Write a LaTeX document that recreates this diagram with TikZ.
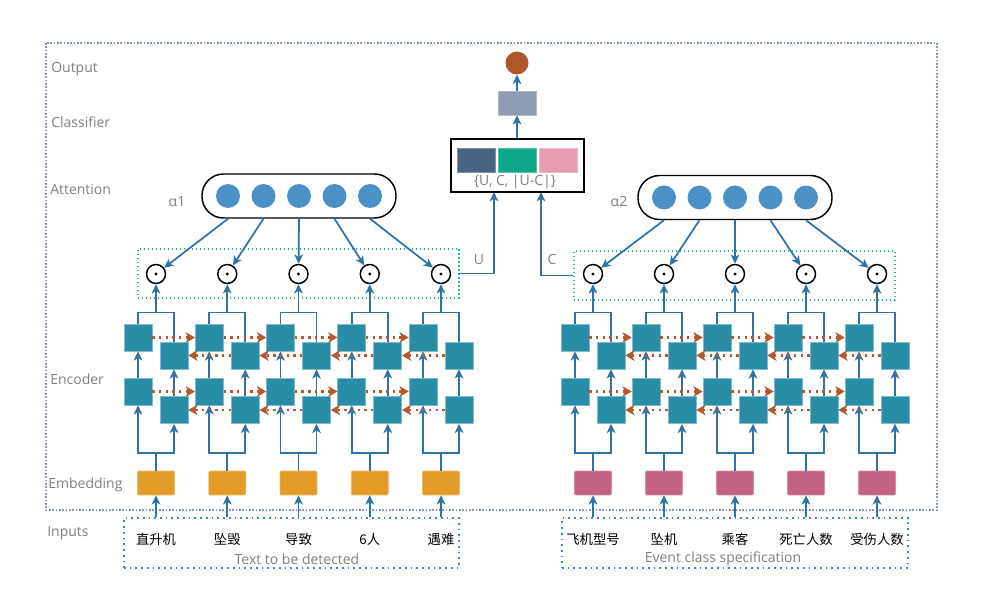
\documentclass[tikz,border=0pt]{standalone}
\usepackage{fontspec}
\setmainfont{Open Sans}
\newfontfamily\cjk{Noto Sans CJK SC}
\usetikzlibrary{arrows.meta}
\definecolor{lineblue}{HTML}{2E72A6}
\definecolor{cellteal}{HTML}{2A8DA6}
\definecolor{embL}{HTML}{E39C29}
\definecolor{embR}{HTML}{C46284}
\definecolor{recbrown}{HTML}{B5582B}
\definecolor{attblue}{HTML}{4B91C6}
\definecolor{boxgreen}{HTML}{1DBF9B}
\definecolor{framegray}{HTML}{8797B5}
\definecolor{inblue}{HTML}{3C88C2}
\definecolor{labgray}{HTML}{7F7F7F}
\definecolor{catA}{HTML}{4A6283}
\definecolor{catB}{HTML}{0FA68A}
\definecolor{catC}{HTML}{E69CB1}
\definecolor{clsgray}{HTML}{8F9DB4}
\definecolor{outbrown}{HTML}{B0572A}
\def\px{0.75pt}
\tikzset{
  lab/.style={text=labgray, font=\fontsize{10.5}{12}\selectfont, inner sep=0pt},
  word/.style={font=\cjk\fontsize{10}{12}\selectfont, inner sep=0pt},
  line/.style={draw=lineblue, line width=1.3pt},
  arr/.style={line, -{Stealth[length=7pt,width=6.5pt,inset=2pt]}},
  rec/.style={draw=recbrown, line width=1.8pt, dash pattern=on 1.8pt off 3.2pt,
    -{Stealth[length=7pt,width=8pt,inset=2pt]}},
  cell/.style={fill=cellteal, draw=cellteal!60!white, line width=0.4pt,
    minimum width=28*\px, minimum height=27*\px, inner sep=0pt},
  emb/.style={fill=#1, draw=#1!70!white, line width=0.4pt, rounded corners=0.8pt,
    minimum width=37*\px, minimum height=24*\px, inner sep=0pt},
  odot/.style={circle, draw=black, line width=1.1pt, minimum size=19*\px, inner sep=0pt,
    path picture={\fill (path picture bounding box.center) circle (1.2pt);}},
  att/.style={circle, fill=attblue, minimum size=24*\px, inner sep=0pt},
  attbar/.style={draw=black, line width=1.1pt, rounded corners=21.5*\px,
    minimum width=194*\px, minimum height=44*\px, inner sep=0pt},
  gbox/.style={draw=boxgreen, line width=1.1pt, dash pattern=on 1.1pt off 1.9pt,
    minimum width=321*\px, minimum height=49*\px, inner sep=0pt},
  ibox/.style={draw=inblue, line width=1.3pt, dash pattern=on 1.3pt off 3pt,
    minimum height=50*\px, inner sep=0pt},
  frame/.style={draw=framegray, line width=1.2pt, dash pattern=on 1.2pt off 1.3pt},
  catbox/.style={draw=black, line width=1.1pt, minimum width=133*\px, minimum height=53*\px, inner sep=0pt},
  catsq/.style={fill=#1, draw=#1!70!white, line width=0.4pt,
    minimum width=38*\px, minimum height=24*\px, inner sep=0pt},
  cls/.style={fill=clsgray, draw=clsgray!70!white, line width=0.4pt,
    minimum width=38*\px, minimum height=24*\px, inner sep=0pt},
  outc/.style={circle, fill=outbrown, minimum size=23*\px, inner sep=0pt}
}
\begin{document}
\begin{tikzpicture}[x=\px, y=-\px]
  \useasboundingbox (0,0) rectangle (989,595);
  \draw[frame] (46,43) rectangle (937,510);
  \node[lab, anchor=west] at (51,69) {Output};
  \node[lab, anchor=west] at (51,122) {Classifier};
  \node[lab, anchor=west] at (50,189) {Attention};
  \node[lab, anchor=west] at (50,379) {Encoder};
  \node[lab, anchor=west] at (48,485) {Embedding};
  \node[lab, anchor=west] at (47,533) {Inputs};

  \node[ibox, minimum width=335*\px] (Lin) at (291.5,543) {};
  \node[ibox, minimum width=346*\px] (Rin) at (735,543) {};
  \node[lab] at (297,559) {Text to be detected};
  \node[lab] at (723,559) {Event class specification};
  \foreach \w [count=\i] in {直升机,坠毁,导致,6人,遇难}
    \node[word] (Lw\i) at ({156+(\i-1)*71.25},539) {\w};
  \foreach \w [count=\i] in {飞机型号,坠机,乘客,死亡人数,受伤人数}
    \node[word] (Rw\i) at ({593+(\i-1)*71},539) {\w};

  \node[gbox] (Lbox) at (298.5,273.4) {};
  \node[gbox] (Rbox) at (734.5,275.5) {};
  \node[lab] at (177,202) {α1};
  \node[lab] at (619,202) {α2};

  \foreach \s/\xo/\dx/\ec in {L/156/71.25/embL, R/593/71/embR} {
    \foreach \i in {1,...,5} {
      \pgfmathsetmacro\x{\xo+(\i-1)*\dx}
      \node[emb=\ec] (\s e\i) at (\x,483) {};
      \node[cell] (\s fa\i) at (\x-18,391.5) {};
      \node[cell] (\s fb\i) at (\x-18,337.5) {};
      \node[cell] (\s ba\i) at (\x+18,410) {};
      \node[cell] (\s bb\i) at (\x+18,355.5) {};
      \node[odot] (\s m\i) at (\x,274) {};
      \coordinate (\s lo\i) at (\x,453);
      \coordinate (\s hi\i) at (\x,312.5);
      \draw[arr] (\s in.north -| \s e\i) -- (\s e\i);
      \draw[line] (\s e\i) -- (\s lo\i);
      \draw[arr] (\s lo\i) -| (\s fa\i);
      \draw[arr] (\s lo\i) -| (\s ba\i);
      \draw[arr] (\s fa\i) -- (\s fb\i);
      \draw[arr] (\s ba\i) -- (\s bb\i);
      \draw[line] (\s fb\i) |- (\s hi\i) -| (\s bb\i);
      \draw[arr] (\s hi\i) -- (\s m\i);
    }
    \foreach \i in {1,...,4} {
      \pgfmathtruncatemacro\j{\i+1}
      \draw[rec] (\s fa\i) -- (\s fa\j);
      \draw[rec] (\s fb\i) -- (\s fb\j);
      \draw[rec] (\s ba\j) -- (\s ba\i);
      \draw[rec] (\s bb\j) -- (\s bb\i);
    }
  }

  \foreach \s/\xc/\yc in {L/299/196, R/735/197.5} {
    \node[attbar] (\s att) at (\xc,\yc) {};
    \foreach \i in {1,...,5} {
      \node[att] (\s a\i) at ({\xc+(\i-3)*35.5},\yc) {};
      \draw[arr] (\s att.south -| \s a\i) -- (\s m\i);
    }
  }

  \node[catbox] (cat) at (517.5,165.5) {};
  \node[catsq=catA] (cat1) at (476,160) {};
  \node[catsq=catB] (cat2) at (517,160) {};
  \node[catsq=catC] (cat3) at (558.5,160) {};
  \node[lab] (catlab) at (515,182) {\{U, C, |U-C|\}};
  \node[cls] (cls) at (517,103) {};
  \node[outc] (out) at (517,63) {};
  \draw[arr] (cat.north -| cls) -- (cls);
  \draw[arr] (cls) -- (out);
  \coordinate (Uin) at (494,192);
  \coordinate (Cin) at (541,192);
  \draw[arr] (Lbox.east) -| (Uin);
  \draw[arr] (Rbox.west) -| (Cin);
  \node[lab] at (479,260) {U};
  \node[lab] at (552,260) {C};
\end{tikzpicture}
\end{document}
